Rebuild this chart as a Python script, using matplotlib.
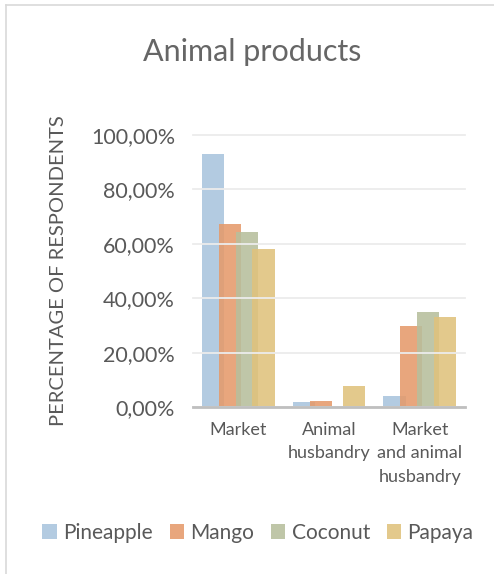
import matplotlib
matplotlib.use("Agg")
import matplotlib.pyplot as plt
import numpy as np
from matplotlib.lines import Line2D
from matplotlib.ticker import FuncFormatter

categories = ["Market", "Animal\nhusbandry", "Market\nand animal\nhusbandry"]
series = ["Pineapple", "Mango", "Coconut", "Papaya"]
pineapple = [0.930, 0.017, 0.040]
mango = [0.672, 0.021, 0.298]
coconut = [0.643, 0.0, 0.349]
papaya = [0.581, 0.078, 0.331]
values = [pineapple, mango, coconut, papaya]
colors = ["#a9c4dd", "#e59a6b", "#b7bf9c", "#e0c27c"]
yticks = [0, 0.2, 0.4, 0.6, 0.8, 1.0]

plt.rcParams['font.family'] = ['Lato', 'DejaVu Sans']
txt = "#595959"

fig = plt.figure(figsize=(4.94, 5.74), dpi=100)
ax = fig.add_axes([193/494, 1-407/574, 272/494, 272/574])

x = np.arange(len(categories))
width = 0.246
step = 0.184
for k, (name, vals, c) in enumerate(zip(series, values, colors)):
    ax.bar(x + (k - 1.5) * step, vals, width=width, color=c, alpha=0.88,
           label=name, zorder=2, linewidth=0)

ax.set_xlim(-0.5, len(categories) - 0.5)
ax.set_ylim(0, 1.0)
ax.set_yticks(yticks)
ax.yaxis.set_major_formatter(FuncFormatter(lambda v, p: f"{v*100:.2f}%".replace(".", ",")))
for yv in yticks:
    ax.axhline(yv, color="#ececec", lw=1.3, zorder=3, clip_on=False)
for s in ["top", "right", "left"]:
    ax.spines[s].set_visible(False)
ax.spines["bottom"].set_color("#bfbfbf")
ax.spines["bottom"].set_linewidth(2)
ax.spines["bottom"].set_zorder(4)
ax.tick_params(axis="both", length=0, colors=txt)
ax.tick_params(axis="y", labelsize=15.5, pad=13)
ax.set_xticks(x)
ax.set_xticklabels(categories, fontsize=13, color=txt, linespacing=1.55)
ax.tick_params(axis="x", pad=11)
ax.set_ylabel("PERCENTAGE OF RESPONDENTS", fontsize=14.5, color=txt, labelpad=17)

fig.text(252/494, 1-52/574, "Animal products", ha="center", va="center",
         fontsize=22, color="#666666")

fig.legend(loc="center", bbox_to_anchor=(258/494, 1-533/574), ncol=4,
           frameon=False, fontsize=15, handlelength=0.7, handleheight=0.7,
           handletextpad=0.3, columnspacing=0.8, labelcolor=txt)

fig.add_artist(Line2D([6/494, 6/494], [0, 1-5/574], transform=fig.transFigure, color="#d9d9d9", lw=1.2))
fig.add_artist(Line2D([6/494, 1], [1-5/574, 1-5/574], transform=fig.transFigure, color="#d9d9d9", lw=1.2))

fig.savefig("out.png", dpi=100)
